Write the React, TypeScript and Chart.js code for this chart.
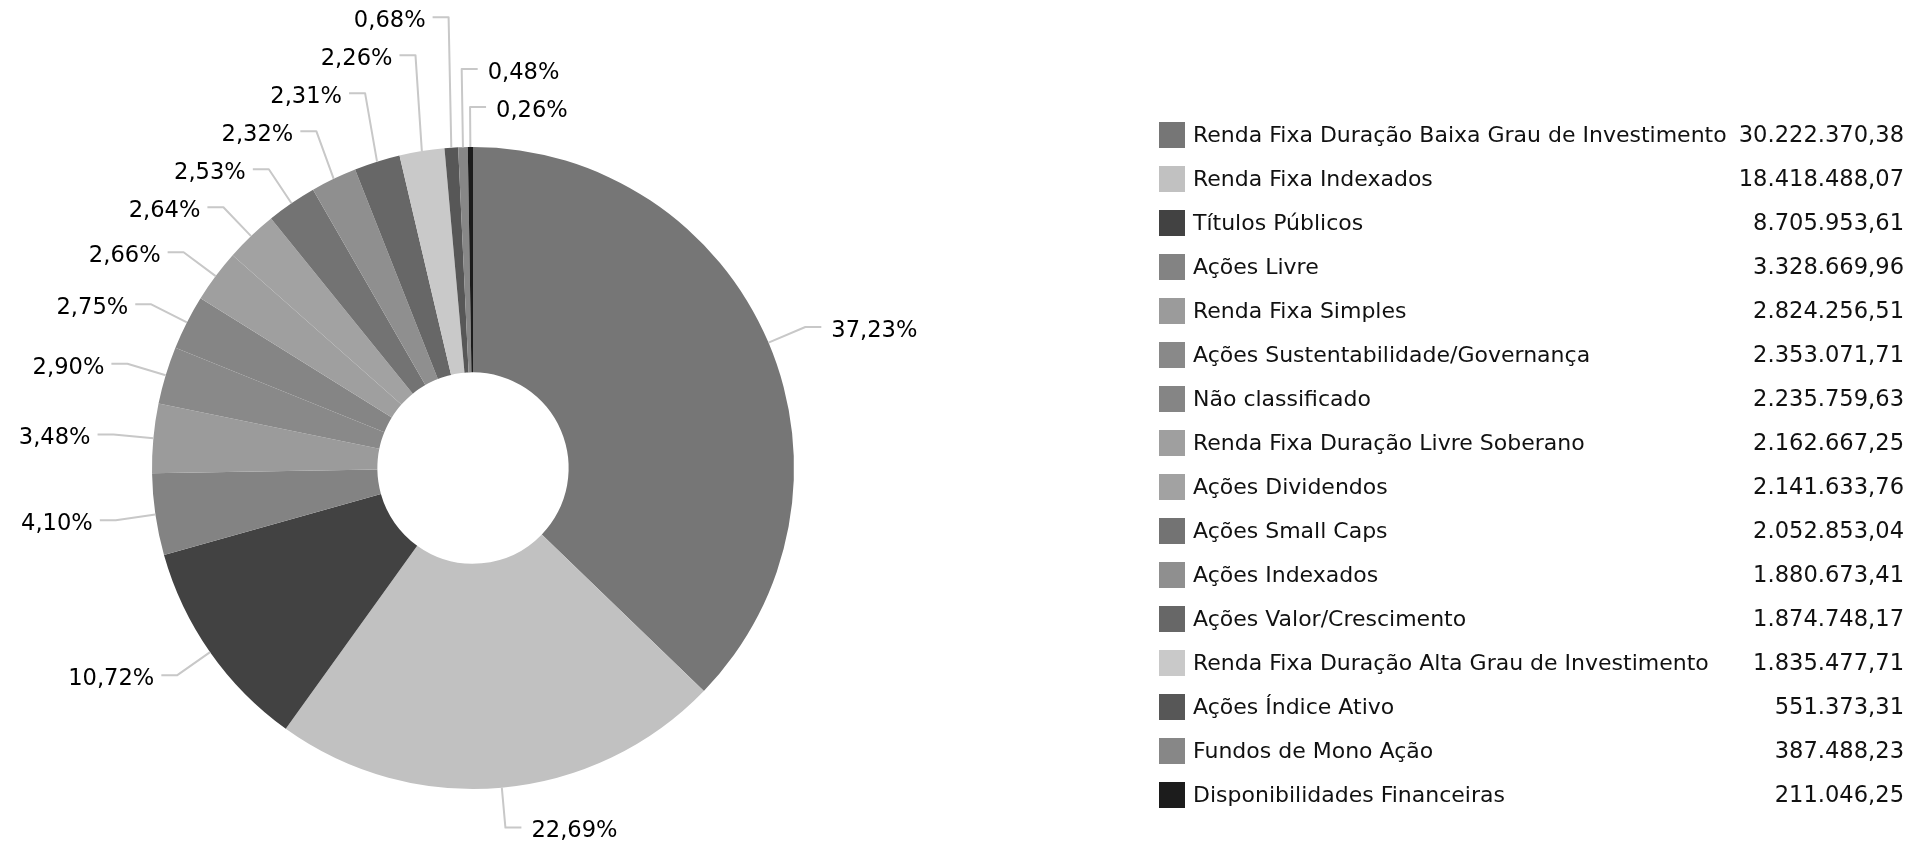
import React, { useEffect, useRef } from 'react';
import { Chart, registerables } from 'chart.js';

Chart.register(...registerables);

const categories = [
  'Renda Fixa Duração Baixa Grau de Investimento',
  'Renda Fixa Indexados',
  'Títulos Públicos',
  'Ações Livre',
  'Renda Fixa Simples',
  'Ações Sustentabilidade/Governança',
  'Não classificado',
  'Renda Fixa Duração Livre Soberano',
  'Ações Dividendos',
  'Ações Small Caps',
  'Ações Indexados',
  'Ações Valor/Crescimento',
  'Renda Fixa Duração Alta Grau de Investimento',
  'Ações Índice Ativo',
  'Fundos de Mono Ação',
  'Disponibilidades Financeiras',
];

const values = [
  30222370.38, 18418488.07, 8705953.61, 3328669.96, 2824256.51, 2353071.71,
  2235759.63, 2162667.25, 2141633.76, 2052853.04, 1880673.41, 1874748.17,
  1835477.71, 551373.31, 387488.23, 211046.25,
];

const colors = [
  '#767676', '#c1c1c1', '#424242', '#838383', '#9b9b9b', '#898989',
  '#858585', '#9f9f9f', '#a2a2a2', '#737373', '#8f8f8f', '#676767',
  '#c9c9c9', '#575757', '#878787', '#1c1c1c',
];

const FONT = '"DejaVu Sans", Verdana, sans-serif';
const W = 1906;
const H = 844;

function formatBR(v: number): string {
  const [i, d] = v.toFixed(2).split('.');
  return i.replace(/\B(?=(\d{3})+(?!\d))/g, '.') + ',' + d;
}

const outLabelsPlugin = {
  id: 'outLabels',
  afterDatasetsDraw(chart: any) {
    const ctx = chart.ctx as CanvasRenderingContext2D;
    const meta = chart.getDatasetMeta(0);
    const data = chart.data.datasets[0].data as number[];
    const total = data.reduce((a, b) => a + b, 0);
    const EXT = 40;
    const SEG = 16;
    const GAP_R = 10;
    const GAP_L = 7;
    const SP = 38;
    const TOP = 12;

    type Item = {
      ax: number; ay: number; ex: number; ey: number; ly: number;
      side: number; cw: number; text: string;
    };
    const items: Item[] = meta.data.map((arc: any, i: number) => {
      const p = arc.getProps(['x', 'y', 'startAngle', 'endAngle', 'outerRadius'], true);
      const mid = (p.startAngle + p.endAngle) / 2;
      const c = Math.cos(mid);
      const s = Math.sin(mid);
      let cw = ((mid + Math.PI / 2) * 180) / Math.PI;
      cw = ((cw % 360) + 360) % 360;
      return {
        ax: p.x + c * p.outerRadius,
        ay: p.y + s * p.outerRadius,
        ex: p.x + c * (p.outerRadius + EXT),
        ey: p.y + s * (p.outerRadius + EXT),
        ly: 0,
        side: c >= 0 ? 1 : -1,
        cw,
        text: ((data[i] / total) * 100).toFixed(2).replace('.', ',') + '%',
      };
    });

    // left side: bottom to top, increasing clockwise angle
    const left = items.filter((it) => it.side < 0).sort((a, b) => a.cw - b.cw);
    let prev = Infinity;
    for (const it of left) {
      const y = Math.min(it.ey, prev - SP);
      if (y < TOP) {
        it.side = 1;
        continue;
      }
      it.ly = y;
      prev = y;
    }
    // right side: bottom to top
    const key = (it: Item) => (it.cw > 270 ? it.cw - 360 : it.cw);
    const right = items.filter((it) => it.side > 0).sort((a, b) => key(b) - key(a));
    prev = Infinity;
    for (const it of right) {
      const y = Math.min(it.ey, prev - SP);
      it.ly = y;
      prev = y;
    }

    ctx.save();
    ctx.strokeStyle = '#c8c8c8';
    ctx.lineWidth = 2;
    ctx.lineJoin = 'round';
    for (const it of items) {
      ctx.beginPath();
      ctx.moveTo(it.ax, it.ay);
      ctx.lineTo(it.ex, it.ly);
      ctx.lineTo(it.ex + it.side * SEG, it.ly);
      ctx.stroke();
    }
    ctx.fillStyle = '#000';
    ctx.font = `22.6px ${FONT}`;
    ctx.textBaseline = 'middle';
    for (const it of items) {
      ctx.textAlign = it.side > 0 ? 'left' : 'right';
      const gap = it.side > 0 ? GAP_R : GAP_L;
      ctx.fillText(it.text, it.ex + it.side * (SEG + gap), it.ly + 4);
    }
    ctx.restore();
  },
};

const sideLegendPlugin = {
  id: 'sideLegend',
  afterDraw(chart: any) {
    const ctx = chart.ctx as CanvasRenderingContext2D;
    const labels = chart.data.labels as string[];
    const ds = chart.data.datasets[0];
    const boxX = 1159;
    const box = 26;
    const textX = 1193;
    const valueX = 1904;
    const y0 = 135;
    const rowH = 44;
    ctx.save();
    ctx.textBaseline = 'middle';
    labels.forEach((lab, i) => {
      const cy = y0 + i * rowH;
      ctx.fillStyle = ds.backgroundColor[i];
      ctx.fillRect(boxX, cy - box / 2, box, box);
      ctx.fillStyle = '#111';
      ctx.textAlign = 'left';
      ctx.font = `22px ${FONT}`;
      ctx.fillText(lab, textX, cy + 1);
      ctx.textAlign = 'right';
      ctx.font = `22.6px ${FONT}`;
      ctx.fillText(formatBR(ds.data[i]), valueX, cy + 1);
    });
    ctx.restore();
  },
};

export default function App() {
  const ref = useRef<HTMLCanvasElement | null>(null);

  useEffect(() => {
    if (!ref.current) return;
    const chart = new Chart(ref.current, {
      type: 'doughnut',
      data: {
        labels: categories,
        datasets: [
          {
            data: values,
            backgroundColor: colors,
            borderWidth: 0,
            hoverOffset: 0,
          },
        ],
      },
      options: {
        responsive: false,
        maintainAspectRatio: false,
        animation: false,
        cutout: '29.8%',
        layout: { padding: { left: 152, top: 147, right: 1112, bottom: 55 } },
        plugins: {
          legend: { display: false },
          tooltip: { enabled: false },
        },
      },
      plugins: [outLabelsPlugin, sideLegendPlugin],
    });
    return () => chart.destroy();
  }, []);

  return (
    <div style={{ position: 'absolute', left: 0, top: 0, width: W, height: H, background: '#fff' }}>
      <canvas ref={ref} width={W} height={H} style={{ width: W, height: H, display: 'block' }} />
    </div>
  );
}
